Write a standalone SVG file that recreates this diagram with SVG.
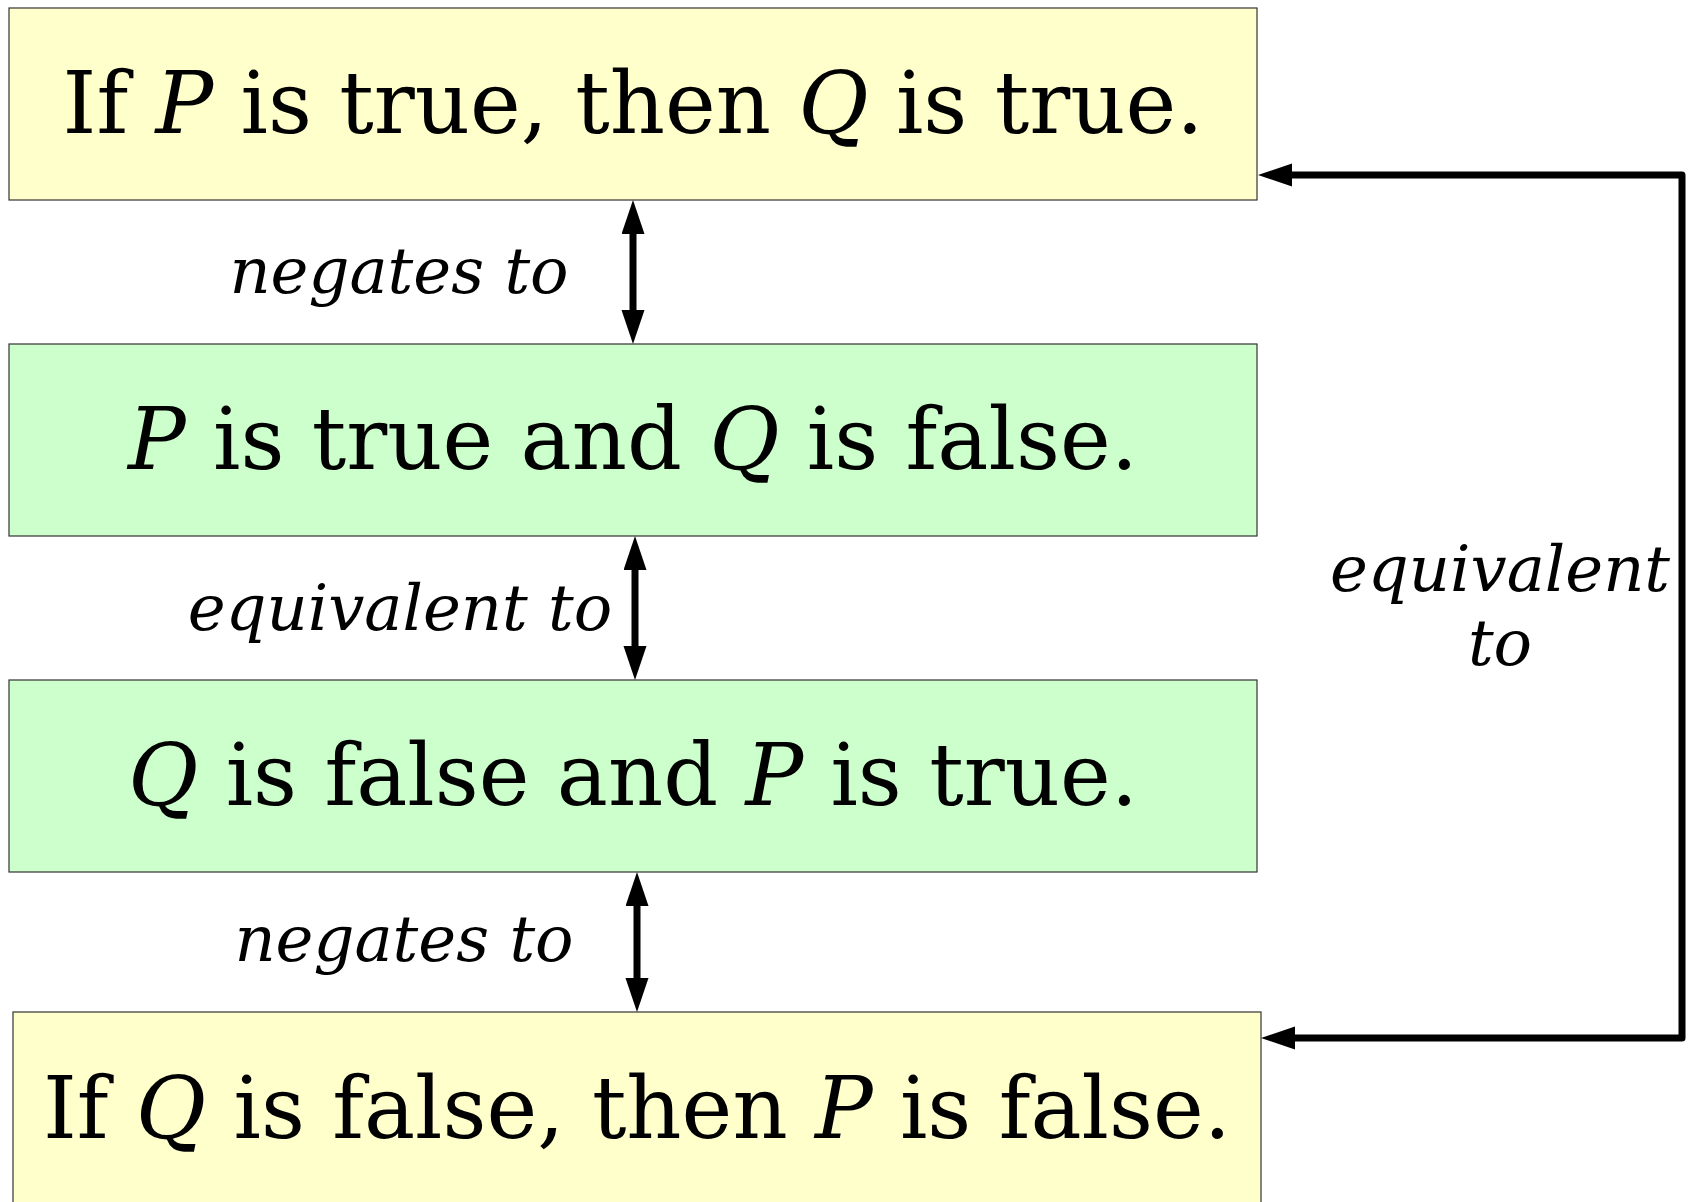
<svg xmlns="http://www.w3.org/2000/svg" width="1690" height="1202" viewBox="0 0 1690 1202">
<style>
.box{stroke:#333;stroke-width:1.2}
.y{fill:#ffffcc}
.g{fill:#ccffcc}
.t{font-family:"DejaVu Serif",serif;font-size:85.8px;fill:#000;text-anchor:middle}
.i{font-style:italic}
.lbl{font-family:"DejaVu Serif",serif;font-style:italic;font-size:64px;fill:#000;text-anchor:middle}
.c{fill:none;stroke:#000;stroke-width:7}
</style>
<defs>
<marker id="ah" markerUnits="userSpaceOnUse" markerWidth="35" markerHeight="24" refX="0" refY="11.5" orient="auto-start-reverse">
<path d="M0,0 L34,11.5 L0,23 z" fill="#000"/>
</marker>
</defs>
<rect width="1690" height="1202" fill="#fff"/>
<g id="n1"><rect class="box y" x="9" y="8" width="1248" height="192"/><text class="t" x="633" y="133">If <tspan class="i">P</tspan> is true, then <tspan class="i">Q</tspan> is true.</text></g>
<g id="n2"><rect class="box g" x="9" y="344" width="1248" height="192"/><text class="t" x="633" y="469"><tspan class="i">P</tspan> is true and <tspan class="i">Q</tspan> is false.</text></g>
<g id="n3"><rect class="box g" x="9" y="680" width="1248" height="192"/><text class="t" x="633" y="805"><tspan class="i">Q</tspan> is false and <tspan class="i">P</tspan> is true.</text></g>
<g id="n4"><rect class="box y" x="13" y="1012" width="1248" height="192"/><text class="t" x="637" y="1138">If <tspan class="i">Q</tspan> is false, then <tspan class="i">P</tspan> is false.</text></g>
<g id="connectors">
<path class="c" d="M633,234 V310" marker-start="url(#ah)" marker-end="url(#ah)"/>
<path class="c" d="M635,570 V646" marker-start="url(#ah)" marker-end="url(#ah)"/>
<path class="c" d="M637,906 V978" marker-start="url(#ah)" marker-end="url(#ah)"/>
<path class="c" d="M1292,175 H1682 V1038 H1295" stroke-linejoin="round" marker-start="url(#ah)" marker-end="url(#ah)"/>
<text class="lbl" x="399" y="293">negates to</text>
<text class="lbl" x="400" y="630">equivalent to</text>
<text class="lbl" x="404" y="961">negates to</text>
<text class="lbl" x="1500" y="591">equivalent</text>
<text class="lbl" x="1500" y="665">to</text>
</g>
</svg>
